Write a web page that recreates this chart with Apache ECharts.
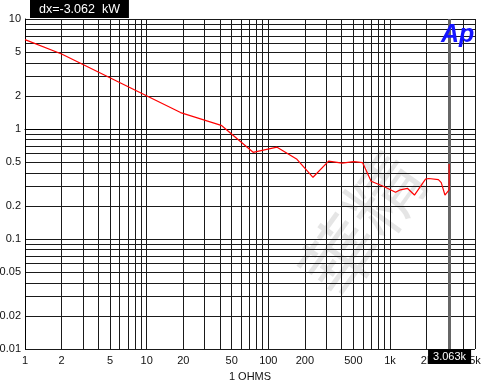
<!DOCTYPE html>
<html><head><meta charset="utf-8">
<script src="https://cdn.jsdelivr.net/npm/echarts@6/dist/echarts.min.js"></script>
<style>html,body{margin:0;padding:0;background:#fff}#c{width:481px;height:385px}</style>
</head><body><div id="c"></div>
<script>
// ---- data ----
const loadOhms = [1, 2, 19, 41, 75, 118, 172, 233, 313, 404, 504, 595, 700, 890, 1110, 1220, 1390, 1590, 1960, 2085, 2500, 2640, 2830, 3063, 3063];
const powerKw  = [6.5, 4.8, 1.41, 1.08, 0.614, 0.684, 0.53, 0.364, 0.51, 0.49, 0.505, 0.495, 0.335, 0.30, 0.266, 0.28, 0.289, 0.251, 0.35, 0.355, 0.347, 0.325, 0.251, 0.28, 0.48];
const xLabelValues = [1, 2, 5, 10, 20, 50, 100, 200, 500, 1000, 2000, 5000];
const xLabelText   = ['1', '2', '5', '10', '20', '50', '100', '200', '500', '1k', '2k', '5k'];
const yLabelValues = [0.01, 0.02, 0.05, 0.1, 0.2, 0.5, 1, 2, 5, 10];
const yLabelText   = ['0.01', '0.02', '0.05', '0.1', '0.2', '0.5', '1', '2', '5', '10'];
const xMin = 1, xMax = 5000, yMin = 0.01, yMax = 10;
const cursorX = 3063;
const cursorText = '3.063k';
const readoutText = 'dx=-3.062  kW';
const xAxisName = '1 OHMS';
const watermarkText = '華精';

// ---- helpers ----
const L = v => Math.log10(v);
function gridValues(lo, hi) {
  const out = [];
  for (let d = lo; d < hi * 1.0001; d *= 10) {
    for (let m = 1; m <= 9; m++) {
      const v = +(m * d).toPrecision(6);
      if (v >= lo * 0.9999 && v <= hi * 1.0001) out.push(v);
    }
  }
  return out;
}
function labelFor(values, texts) {
  return function (val) {
    for (let i = 0; i < values.length; i++) if (Math.abs(L(values[i]) - val) < 1e-6) return texts[i];
    return '';
  };
}
const xGrid = gridValues(xMin, xMax).map(L);
const yGrid = gridValues(yMin, yMax).map(L);
const lineData = loadOhms.map((x, i) => [L(x), L(powerKw[i])]);
const FONT = 'Liberation Sans, Arial, sans-serif';

const chart = echarts.init(document.getElementById('c'), null, {renderer: 'canvas'});
chart.setOption({
  animation: false,
  backgroundColor: '#fff',
  grid: {left: 25, right: 6, top: 19, bottom: 36, containLabel: false, outerBoundsMode: 'none'},
  xAxis: {
    type: 'value', min: L(xMin), max: L(xMax),
    name: xAxisName, nameLocation: 'middle', nameGap: 22,
    nameTextStyle: {color: '#111', fontSize: 11, fontFamily: FONT},
    axisLine: {show: true, lineStyle: {color: '#000', width: 1}},
    axisTick: {show: false, customValues: xGrid},
    axisLabel: {customValues: xLabelValues.map(L), formatter: labelFor(xLabelValues, xLabelText),
                color: '#111', fontSize: 11, fontFamily: FONT, margin: 6},
    splitLine: {show: true, lineStyle: {color: '#1a1a1a', width: 1}}
  },
  yAxis: {
    type: 'value', min: L(yMin), max: L(yMax),
    axisLine: {show: true, lineStyle: {color: '#000', width: 1}},
    axisTick: {show: false, customValues: yGrid},
    axisLabel: {customValues: yLabelValues.map(L), formatter: labelFor(yLabelValues, yLabelText),
                color: '#111', fontSize: 11, fontFamily: FONT, margin: 4},
    splitLine: {show: true, lineStyle: {color: '#1a1a1a', width: 1}}
  },
  graphic: [
    {type: 'text', z: -10, x: 362, y: 225, rotation: 0.95, silent: true,
     style: {text: watermarkText, font: '76px "Noto Sans CJK TC"', fill: 'rgba(0,0,0,0.10)', align: 'center', verticalAlign: 'middle'}},
    {type: 'text', left: 30, top: 0, z: 10,
     style: {text: readoutText, font: '12.5px ' + FONT, fill: '#fff', backgroundColor: '#000', padding: [3, 9, 2, 9]}},
    {type: 'text', left: 441, top: 23, z: 10,
     style: {text: 'Ap', font: 'italic bold 25px ' + FONT, fill: '#1414ff'}}
  ],
  series: [
    {
      type: 'line', data: [], z: 1, silent: true,
      markLine: {
        silent: true, symbol: 'none', animation: false, z: 1,
        lineStyle: {color: '#666', width: 3, type: 'solid'},
        label: {show: true, position: 'start', distance: 0, formatter: cursorText,
                color: '#fff', backgroundColor: '#000', padding: [2, 5, 2, 5], fontSize: 11, fontFamily: FONT},
        emphasis: {disabled: true},
        data: [{xAxis: L(cursorX)}]
      }
    },
    {
      type: 'line', data: lineData, z: 8, showSymbol: false, silent: true,
      lineStyle: {color: '#ff0000', width: 1.2}
    }
  ]
});
</script>
</body></html>
